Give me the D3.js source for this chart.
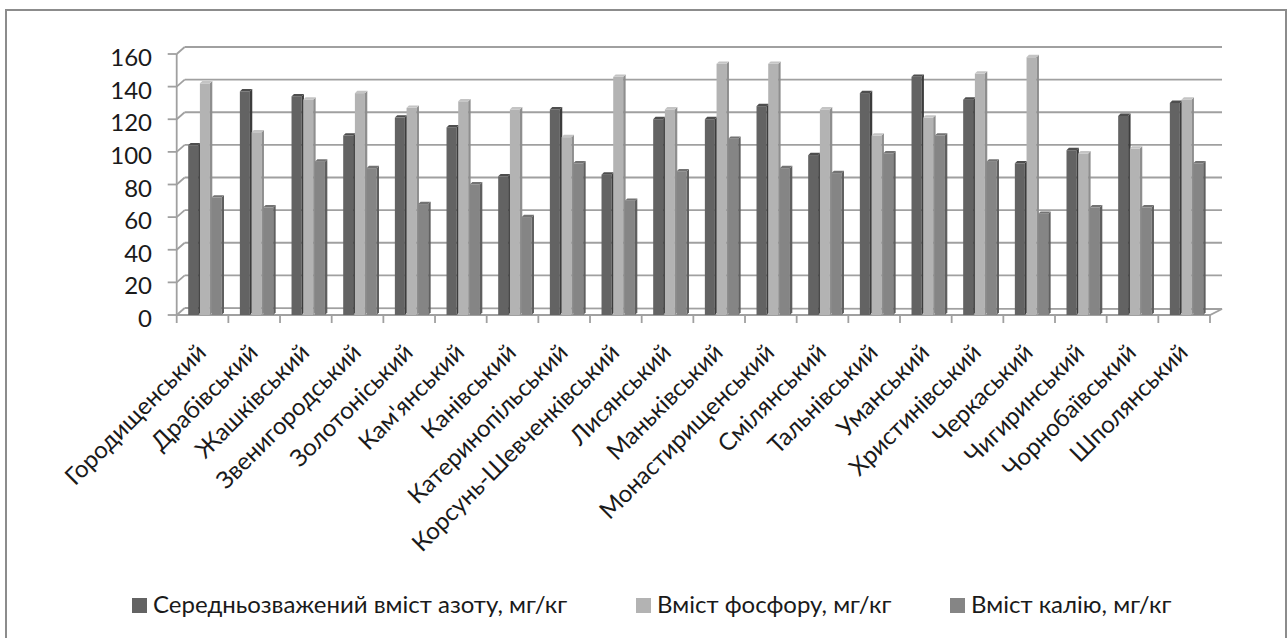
<!DOCTYPE html>
<html>
<head>
<meta charset="utf-8">
<script src="https://cdn.jsdelivr.net/npm/d3@7"></script>
<style>
  html, body { margin: 0; padding: 0; background: #ffffff; }
  svg { display: block; }
  text { font-family: Lato, "Open Sans", sans-serif; fill: #1a1a1a; }
</style>
</head>
<body>
<svg id="chart" width="1287" height="638"></svg>
<script>
const categories = ["Городищенський","Драбівський","Жашківський","Звенигородський","Золотоніський","Кам'янський","Канівський","Катеринопільський","Корсунь-Шевченківський","Лисянський","Маньківський","Монастирищенський","Смілянський","Тальнівський","Уманський","Христинівський","Черкаський","Чигиринський","Чорнобаївський","Шполянський"];
const seriesNames = ["Середньозважений вміст азоту, мг/кг","Вміст фосфору, мг/кг","Вміст калію, мг/кг"];
const nitrogen   = [104, 137, 134, 110, 121, 115, 85, 126, 86, 120, 120, 128, 98, 136, 146, 132, 93, 101, 122, 130];
const phosphorus = [142, 112, 132, 136, 127, 131, 126, 109, 146, 126, 154, 154, 126, 110, 121, 148, 158, 99, 102, 132];
const potassium  = [72, 66, 94, 90, 68, 80, 60, 93, 70, 88, 108, 90, 87, 99, 110, 94, 62, 66, 66, 93];
const yTicks = [0, 20, 40, 60, 80, 100, 120, 140, 160];

const seriesValues = [nitrogen, phosphorus, potassium];
const fronts = ["#636363", "#b3b3b3", "#858585"];
const sides  = ["#3c3c3c", "#8e8e8e", "#5f5f5f"];
const tops   = ["#4e4e4e", "#c4c4c4", "#737373"];

const svg = d3.select("#chart");

// outer frame
svg.append("rect").attr("x", 6).attr("y", 10).attr("width", 1280).attr("height", 640)
  .attr("fill", "#fff").attr("stroke", "#8c8c8c").attr("stroke-width", 2);

const x0 = 176.7, x1 = 1210;
const depthX = 8, depthY = -7;
const y = d3.scaleLinear().domain([0, 160]).range([315, 54]);
const x = d3.scaleBand().domain(categories).range([x0, x1]).padding(0);
const xs = d3.scaleBand().domain(d3.range(3)).range([11.5, 11.5 + 3 * 11.7]).padding(0);

const grid = svg.append("g").attr("stroke", "#a0a0a0").attr("stroke-width", 1.8).attr("fill", "none");
yTicks.forEach(t => {
  if (t > 0) grid.append("line").attr("x1", x0 + depthX).attr("x2", x1 + depthX + 4)
    .attr("y1", y(t) + depthY).attr("y2", y(t) + depthY);
  grid.append("line").attr("x1", x0).attr("y1", y(t)).attr("x2", x0 + depthX).attr("y2", y(t) + depthY);
  grid.append("line").attr("x1", x0 - 9).attr("x2", x0).attr("y1", y(t)).attr("y2", y(t));
});
grid.append("line").attr("x1", x0).attr("x2", x0).attr("y1", y(160)).attr("y2", y(0));
grid.append("path").attr("d",
  `M${x0},${y(0)} L${x1},${y(0)} L${x1 + depthX + 4},${y(0) + depthY + 1} L${x0 + depthX},${y(0) + depthY}`);
d3.range(categories.length + 1).forEach(i => {
  const xx = x0 + i * x.bandwidth();
  grid.append("line").attr("x1", xx).attr("x2", xx).attr("y1", y(0)).attr("y2", y(0) + 8);
});

// y tick labels
svg.append("g").selectAll("text").data(yTicks).join("text")
  .attr("x", 152).attr("y", d => y(d)).attr("dy", "0.5em")
  .attr("text-anchor", "end").attr("font-size", 24).text(d => d);

// bars (3D columns)
const bw = 10, bd = 2.4;
const bars = svg.append("g");
categories.forEach((c, i) => {
  seriesValues.forEach((vals, s) => {
    const bx = x(c) + xs(s);
    const yt = y(vals[i]);
    const yb = y(0);
    const g = bars.append("g");
    g.append("rect").attr("x", bx).attr("y", yt).attr("width", bw).attr("height", yb - yt)
      .attr("fill", fronts[s]);
    g.append("path").attr("d",
      `M${bx + bw},${yt} L${bx + bw + bd},${yt - bd} L${bx + bw + bd},${yb - bd} L${bx + bw},${yb} Z`)
      .attr("fill", sides[s]);
    g.append("path").attr("d",
      `M${bx},${yt} L${bx + bw},${yt} L${bx + bw + bd},${yt - bd} L${bx + bd},${yt - bd} Z`)
      .attr("fill", tops[s]);
  });
});

// x labels
svg.append("g").selectAll("text").data(categories).join("text")
  .attr("transform", d => `translate(${x(d) + x.bandwidth() / 2 + 5},354) rotate(-45)`)
  .attr("text-anchor", "end").attr("font-size", 24).text(d => d);

// legend
const legendX = [132, 636, 950];
const legend = svg.append("g");
seriesNames.forEach((n, s) => {
  legend.append("rect").attr("x", legendX[s]).attr("y", 598).attr("width", 15).attr("height", 15)
    .attr("fill", fronts[s]);
  legend.append("text").attr("x", legendX[s] + 21).attr("y", 613).attr("font-size", 24).text(n);
});
</script>
</body>
</html>
